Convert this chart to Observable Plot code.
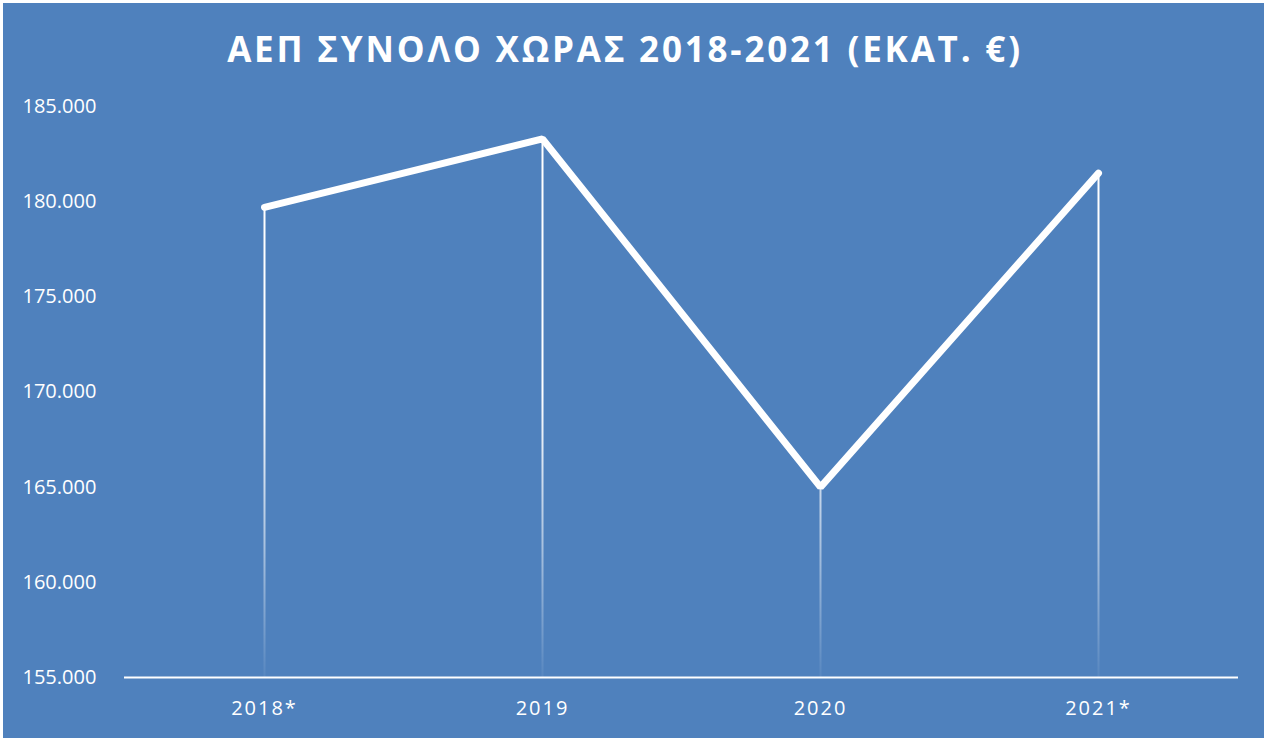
<!DOCTYPE html>
<html>
<head>
<meta charset="utf-8">
<script src="https://cdn.jsdelivr.net/npm/d3@7"></script>
<script src="https://cdn.jsdelivr.net/npm/@observablehq/plot@0.6"></script>
<style>
  html, body { margin: 0; padding: 0; background: #ffffff; }
  #wrap { position: absolute; left: 3px; top: 3px; width: 1261px; height: 735px; background: #4f81bd; overflow: hidden; }
  #title { position: absolute; left: -10px; top: -4px; width: 1264px; height: 88px; line-height: 100px; text-align: center;
    color: #ffffff; font-family: "Open Sans", sans-serif; font-weight: 700; font-size: 35px; letter-spacing: 2.8px; }
  #chart { position: absolute; left: -3px; top: 82px; }
</style>
</head>
<body>
<div id="wrap">
  <div id="title">ΑΕΠ ΣΥΝΟΛΟ ΧΩΡΑΣ 2018-2021 (ΕΚΑΤ. €)</div>
  <div id="chart"></div>
</div>
<script>
const years = ["2018*", "2019", "2020", "2021*"];
const gdp = [179700, 183300, 165000, 181500];
const yTicks = [155000, 160000, 165000, 170000, 175000, 180000, 185000];

const data = years.map((y, i) => ({year: y, value: gdp[i]}));
const fmt = v => d3.format(",.0f")(v).replace(/,/g, ".");

const gradientDefs = (index, scales, values, dims) => {
  const defs = d3.create("svg:defs");
  const g = defs.append("linearGradient")
    .attr("id", "dropfade")
    .attr("gradientUnits", "userSpaceOnUse")
    .attr("x1", 0).attr("x2", 0)
    .attr("y1", scales.y(170000)).attr("y2", scales.y(155000));
  g.append("stop").attr("offset", "0%").attr("stop-color", "#ffffff").attr("stop-opacity", 1);
  g.append("stop").attr("offset", "55%").attr("stop-color", "#ffffff").attr("stop-opacity", 0.5);
  g.append("stop").attr("offset", "100%").attr("stop-color", "#ffffff").attr("stop-opacity", 0.05);
  return defs.node();
};

const chart = Plot.plot({
  width: 1264,
  height: 653,
  marginTop: 21,
  marginBottom: 61,
  marginLeft: 124,
  marginRight: 26,
  style: { background: "transparent", color: "#ffffff", fontFamily: "Open Sans, sans-serif", fontSize: "20px" },
  x: { type: "point", domain: years, padding: 0.5, label: null, axis: null },
  y: { domain: [155000, 185000], label: null, axis: null },
  marks: [
    gradientDefs,
    Plot.ruleX(data, { x: "year", y1: 155000, y2: "value", stroke: "url(#dropfade)", strokeWidth: 2 }),
    Plot.ruleY([155000], { stroke: "#ffffff", strokeWidth: 2.2 }),
    Plot.line(data, { x: "year", y: "value", stroke: "#ffffff", strokeWidth: 7, strokeLinejoin: "miter", strokeLinecap: "round" }),
    Plot.axisX({ tickSize: 0, tickPadding: 23, fontSize: 20, fill: "#ffffff" }),
    Plot.text(yTicks, { y: d => d, text: d => fmt(d), frameAnchor: "left", dx: -102, textAnchor: "start", fill: "#ffffff", fontSize: 20 })
  ]
});
chart.querySelectorAll('[aria-label="x-axis tick label"] text').forEach(t => t.setAttribute("letter-spacing", "2px"));
document.getElementById("chart").appendChild(chart);
</script>
</body>
</html>
